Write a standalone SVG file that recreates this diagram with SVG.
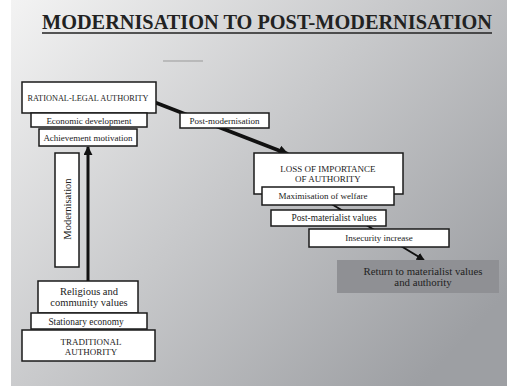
<svg xmlns="http://www.w3.org/2000/svg" width="507" height="386" viewBox="0 0 507 386">
<defs>
<linearGradient id="bg" gradientUnits="userSpaceOnUse" x1="11" y1="0" x2="420" y2="386">
<stop offset="0" stop-color="#f3f3f3"/>
<stop offset="1" stop-color="#9d9fa3"/>
</linearGradient>
<marker id="ah" viewBox="0 0 10 10" refX="9" refY="5" markerWidth="3" markerHeight="3" orient="auto" markerUnits="strokeWidth">
<path d="M0,0 L10,5 L0,10 z" fill="#111"/>
</marker>
<marker id="ah2" viewBox="0 0 10 10" refX="9" refY="5" markerWidth="4" markerHeight="4" orient="auto" markerUnits="strokeWidth">
<path d="M0,0 L10,5 L0,10 z" fill="#111"/>
</marker>
</defs>
<style>
.box{fill:#fff;stroke:#1a1a1a;stroke-width:1.5}
.t{font-family:"Liberation Serif","Times New Roman",serif;font-size:9px;fill:#222;text-anchor:middle}
.line{stroke:#111;fill:none}
</style>
<rect x="0" y="0" width="507" height="386" fill="#fff"/>
<rect x="11" y="0" width="496" height="386" fill="url(#bg)"/>
<g id="title">
<text x="267" y="29" font-family="'Liberation Serif','Times New Roman',serif" font-size="20" font-weight="bold" fill="#222" text-anchor="middle" textLength="450" lengthAdjust="spacingAndGlyphs">MODERNISATION TO POST-MODERNISATION</text>
<line x1="42" y1="33" x2="492" y2="33" stroke="#222" stroke-width="1.3"/>
<line x1="163" y1="61" x2="203" y2="61" stroke="#999" stroke-width="1"/>
</g>
<g id="connectors">
<line class="line" x1="88" y1="281" x2="88" y2="147" stroke-width="3" marker-end="url(#ah)"/>
<line class="line" x1="154" y1="102" x2="288" y2="154" stroke-width="3.5" marker-end="url(#ah)"/>
<line class="line" x1="315" y1="194" x2="424" y2="260" stroke-width="2" marker-end="url(#ah2)"/>
</g>
<g id="rational">
<rect class="box" x="22" y="82" width="134" height="31"/>
<text class="t" x="88" y="101" textLength="121" lengthAdjust="spacingAndGlyphs">RATIONAL-LEGAL AUTHORITY</text>
</g>
<g id="economic">
<rect class="box" x="31" y="113" width="116" height="14"/>
<text class="t" x="89" y="123.5">Economic development</text>
</g>
<g id="achievement">
<rect class="box" x="39" y="129" width="98" height="17"/>
<text class="t" x="88" y="140.5">Achievement motivation</text>
</g>
<g id="modernisation">
<rect class="box" x="55" y="153" width="24" height="114"/>
<text class="t" style="font-size:10.5px" transform="translate(70.5,209) rotate(-90)">Modernisation</text>
</g>
<g id="religious">
<rect class="box" x="38" y="281" width="100" height="32"/>
<text class="t" style="font-size:10.5px" x="89" y="295">Religious and</text>
<text class="t" style="font-size:10.5px" x="89" y="306">community values</text>
</g>
<g id="stationary">
<rect class="box" x="31" y="313" width="116" height="16"/>
<text class="t" style="font-size:9.4px" x="86" y="324.5">Stationary economy</text>
</g>
<g id="traditional">
<rect class="box" x="22" y="330" width="133" height="31"/>
<text class="t" x="91" y="345">TRADITIONAL</text>
<text class="t" x="91" y="355">AUTHORITY</text>
</g>
<g id="postmod">
<rect class="box" x="180" y="113" width="89" height="15"/>
<text class="t" x="224.5" y="123.5">Post-modernisation</text>
</g>
<g id="loss">
<rect class="box" x="254" y="153" width="149" height="41"/>
<text class="t" x="328" y="172">LOSS OF IMPORTANCE</text>
<text class="t" x="328" y="182">OF AUTHORITY</text>
</g>
<g id="maximisation">
<rect class="box" x="262" y="187" width="132" height="18"/>
<text class="t" x="323" y="198.5">Maximisation of welfare</text>
</g>
<g id="postmat">
<rect class="box" x="271" y="210" width="115" height="16"/>
<text class="t" style="font-size:9.4px" x="334" y="221">Post-materialist values</text>
</g>
<g id="insecurity">
<rect class="box" x="309" y="229" width="140" height="18"/>
<text class="t" x="379" y="241">Insecurity increase</text>
</g>
<g id="return">
<rect x="337" y="260" width="162" height="33" fill="#8f9094"/>
<text class="t" style="font-size:10.8px" x="423" y="274.5">Return to materialist values</text>
<text class="t" style="font-size:10.8px" x="423" y="286">and authority</text>
</g>
</svg>
